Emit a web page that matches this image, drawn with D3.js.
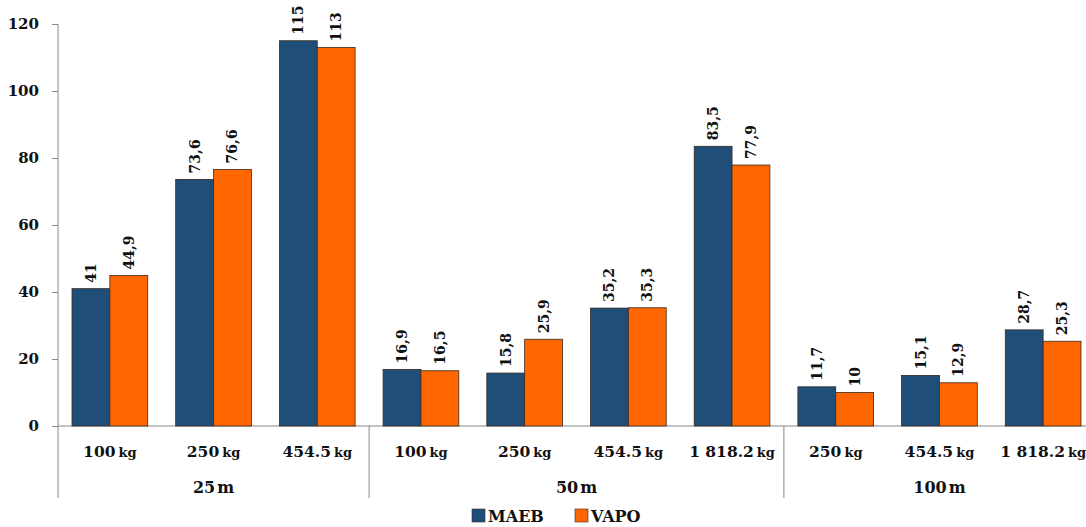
<!DOCTYPE html>
<html><head><meta charset="utf-8">
<script src="https://cdn.jsdelivr.net/npm/d3@7"></script>
<style>body{margin:0;background:#fff;}svg{display:block;}</style>
</head><body>
<svg id="c" width="1086" height="527" font-weight="bold"></svg>
<script>
const weights = ["100","250","454.5","100","250","454.5","1 818.2","250","454.5","1 818.2"];
const distances = ["25","50","100"];
const groupSizes = [3,4,3];
const maeb = [41,73.6,115,16.9,15.8,35.2,83.5,11.7,15.1,28.7];
const vapo = [44.9,76.6,113,16.5,25.9,35.3,77.9,10,12.9,25.3];
const seriesNames = ["MAEB","VAPO"];
const colors = ["#1F4E79","#FF6600"];
const yTicks = [0,20,40,60,80,100,120];

const FONT = "'DejaVu Serif', 'Liberation Serif', serif";
const svg = d3.select("#c");
const x0 = 58, x1 = 1095, yBase = 426, yTop = 24;
const idx = d3.range(weights.length);
const x = d3.scaleBand().domain(idx).range([x0,x1]).paddingInner(0.27).paddingOuter(0.135);
const y = d3.scaleLinear().domain([0,120]).range([yBase,yTop]);
const xs = d3.scaleBand().domain([0,1]).range([0,x.bandwidth()]);
const T = sel => sel.style("font-family",FONT).attr("font-weight","bold").attr("fill","#111");

// y axis
const yAxis = svg.append("g").attr("transform",`translate(${x0},0)`)
  .call(d3.axisLeft(y).tickValues(yTicks).tickSize(6).tickPadding(13).tickFormat(d3.format("d")));
yAxis.attr("font-size",15);
yAxis.select(".domain").remove();
yAxis.selectAll(".tick line").attr("stroke","#888");
yAxis.selectAll(".tick text").call(T);
svg.append("line").attr("x1",x0).attr("x2",x0).attr("y1",yTop).attr("y2",498).attr("stroke","#888");
svg.append("line").attr("x1",x0).attr("x2",1086).attr("y1",yBase).attr("y2",yBase).attr("stroke","#888");

// group separators
let cum = 0;
const step = x.step();
const bandStart = i => x0 + (x1-x0 - step*weights.length)/2 + i*step;
groupSizes.forEach((n,g)=>{
  const s = bandStart(cum), e = bandStart(cum+n);
  if (g>0) svg.append("line").attr("x1",s).attr("x2",s).attr("y1",yBase).attr("y2",498).attr("stroke","#888");
  const t = svg.append("text").call(T).attr("x",(s+e)/2).attr("y",493).attr("text-anchor","middle").attr("font-size",16);
  t.append("tspan").text(distances[g]);
  t.append("tspan").attr("dx",2).text("m");
  cum += n;
});

// category labels
idx.forEach(i=>{
  const t = svg.append("text").call(T).attr("x",x(i)+x.bandwidth()/2).attr("y",457).attr("text-anchor","middle").attr("font-size",15.5);
  t.append("tspan").text(weights[i]);
  t.append("tspan").attr("dx",3).attr("font-size",13).text("kg");
});

const fmt = v => d3.format("~f")(v).replace(".",",");
[maeb,vapo].forEach((vals,s)=>{
  const g = svg.append("g");
  g.selectAll("rect").data(idx).join("rect")
    .attr("x",i=>x(i)+xs(s)).attr("width",xs.bandwidth())
    .attr("y",i=>y(vals[i])).attr("height",i=>yBase-y(vals[i]))
    .attr("fill",colors[s]).attr("stroke","#3a2a20").attr("stroke-width",0.8);
  g.selectAll("text").data(idx).join("text").call(T)
    .attr("transform",i=>`translate(${x(i)+xs(s)+xs.bandwidth()/2+5},${y(vals[i])-6}) rotate(-90)`)
    .attr("font-size",14).attr("text-anchor","start").text(i=>fmt(vals[i]));
});

// legend
const leg = svg.append("g");
const lx = [472,575];
seriesNames.forEach((n,s)=>{
  leg.append("rect").attr("x",lx[s]).attr("y",509).attr("width",13).attr("height",13).attr("fill",colors[s]).attr("stroke","#3a2a20").attr("stroke-width",0.6);
  leg.append("text").call(T).attr("x",lx[s]+16).attr("y",522).attr("font-size",16).text(n);
});
</script>
</body></html>
